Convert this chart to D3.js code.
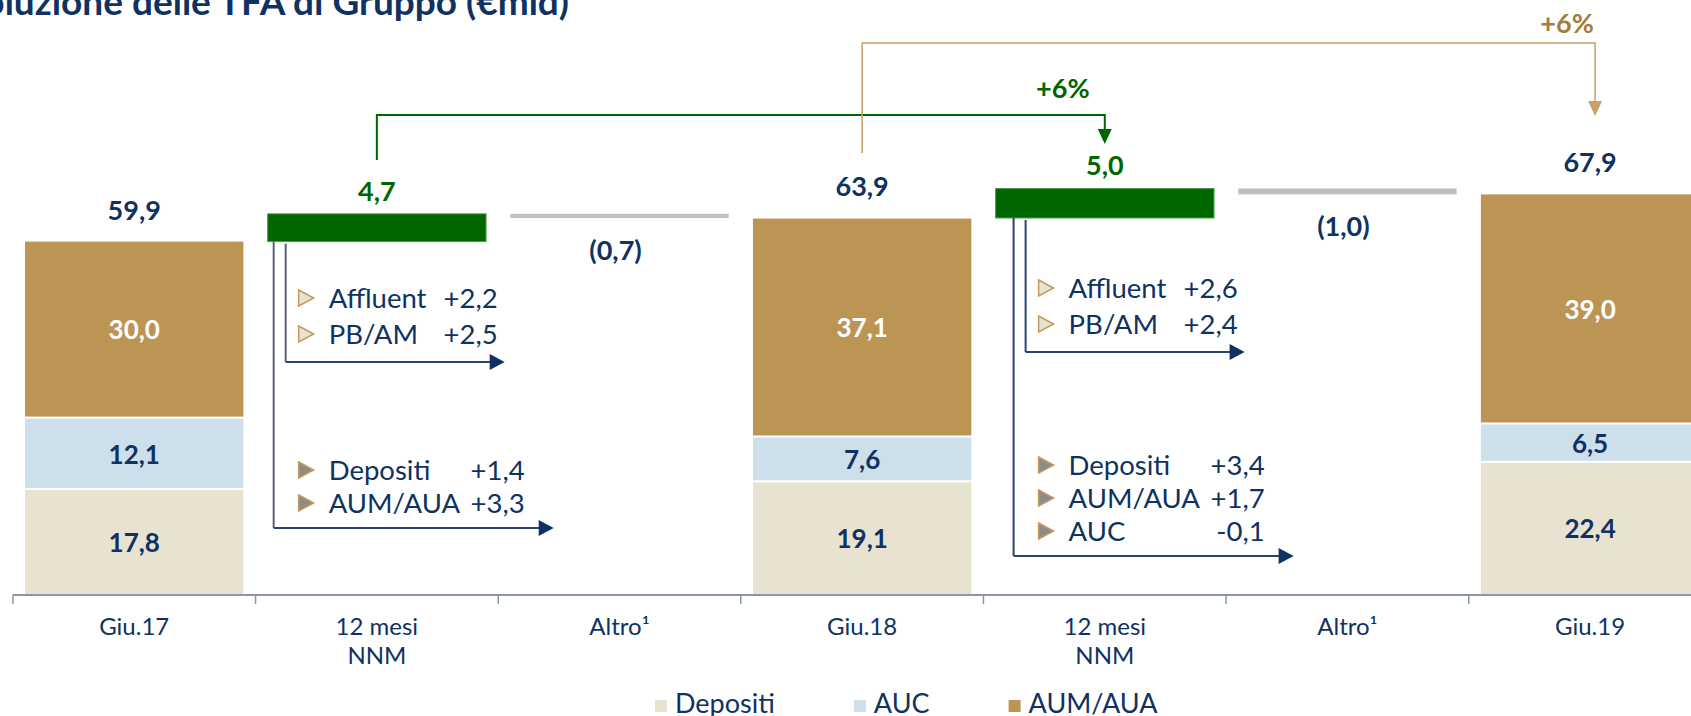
<!DOCTYPE html>
<html>
<head>
<meta charset="utf-8">
<script src="https://cdn.jsdelivr.net/npm/d3@7"></script>
<style>
  html, body { margin: 0; padding: 0; background: #fff; overflow: hidden; }
  svg { display: block; font-family: Lato, "Open Sans", sans-serif; }
</style>
</head>
<body>
<svg id="chart" width="1691" height="716"></svg>
<script>
// categories on the x axis ("|" = line break)
var categories = ["Giu.17", "12 mesi|NNM", "Altro¹", "Giu.18", "12 mesi|NNM", "Altro¹", "Giu.19"];

// stock bars (€mld)
var stockIdx = [0, 3, 6];
var seriesNames = ["Depositi", "AUC", "AUM/AUA"];
var depositi = [17.8, 19.1, 22.4];
var auc = [12.1, 7.6, 6.5];
var aumAua = [30.0, 37.1, 39.0];
var totals = [59.9, 63.9, 67.9];

// waterfall steps between the stocks
var flowIdx = [1, 2, 4, 5];
var flows = [4.7, -0.7, 5.0, -1.0];

// NNM breakdowns
var clients1 = [["Affluent", "+2,2"], ["PB/AM", "+2,5"]];
var products1 = [["Depositi", "+1,4"], ["AUM/AUA", "+3,3"]];
var clients2 = [["Affluent", "+2,6"], ["PB/AM", "+2,4"]];
var products2 = [["Depositi", "+3,4"], ["AUM/AUA", "+1,7"], ["AUC", "-0,1"]];

// growth brackets
var growthLabels = ["+6%", "+6%"];

var navy = "#0f3262";
var green = "#006600";
var goldLine = "#c6a168";
var goldText = "#a27d3e";
var colors = { "Depositi": "#e8e2d0", "AUC": "#cddfea", "AUM/AUA": "#bc9555" };

var svg = d3.select("#chart");

var x = d3.scaleBand()
  .domain(d3.range(categories.length))
  .range([12.9, 1711.4])
  .paddingInner(0.1)
  .paddingOuter(0.05);

var y = d3.scaleLinear().domain([0, 100]).range([595, 5]);

var bw = x.bandwidth();
function cx(i) { return x(i) + bw / 2; }
function fmt(v) { return Math.abs(v).toFixed(1).replace(".", ","); }

// title (cut at the left edge as in the slide)
svg.append("text")
  .attr("x", 569)
  .attr("y", 15)
  .attr("text-anchor", "end")
  .attr("font-size", 37)
  .attr("font-weight", "bold")
  .attr("fill", navy)
  .text("Evoluzione delle TFA di Gruppo (€mld)");

// stacked stock bars
var table = stockIdx.map(function(idx, k) {
  return { idx: idx, "Depositi": depositi[k], "AUC": auc[k], "AUM/AUA": aumAua[k] };
});
var stacked = d3.stack().keys(seriesNames)(table);

var layer = svg.selectAll(".layer")
  .data(stacked)
  .enter()
  .append("g")
  .attr("class", "layer")
  .attr("fill", function(d) { return colors[d.key]; });

layer.selectAll("rect")
  .data(function(d) { return d; })
  .enter()
  .append("rect")
  .attr("x", function(d) { return x(d.data.idx); })
  .attr("y", function(d) { return y(d[1]); })
  .attr("width", bw)
  .attr("height", function(d) { return y(d[0]) - y(d[1]) - (d[0] > 0 ? 2 : 0); });

layer.selectAll("text")
  .data(function(d) { return d.map(function(p) { p.key = d.key; return p; }); })
  .enter()
  .append("text")
  .attr("x", function(d) { return cx(d.data.idx); })
  .attr("y", function(d) { return (y(d[0]) + y(d[1])) / 2; })
  .attr("dy", "0.36em")
  .attr("text-anchor", "middle")
  .attr("font-size", 26)
  .attr("font-weight", "bold")
  .attr("fill", function(d) { return d.key === "AUM/AUA" ? "#ffffff" : navy; })
  .text(function(d) { return fmt(d[1] - d[0]); });

svg.selectAll(".total")
  .data(totals)
  .enter()
  .append("text")
  .attr("class", "total")
  .attr("x", function(d, k) { return cx(stockIdx[k]); })
  .attr("y", function(d) { return y(d) - 22; })
  .attr("text-anchor", "middle")
  .attr("font-size", 27)
  .attr("font-weight", "bold")
  .attr("fill", navy)
  .text(function(d) { return fmt(d); });

// waterfall steps
var running = totals[0];
var steps = flows.map(function(v, k) {
  var s = { idx: flowIdx[k], v: v, lo: Math.min(running, running + v), hi: Math.max(running, running + v) };
  running += v;
  return s;
});

svg.selectAll(".step")
  .data(steps)
  .enter()
  .append("rect")
  .attr("class", "step")
  .attr("x", function(d) { return x(d.idx); })
  .attr("y", function(d) { return y(d.hi); })
  .attr("width", bw)
  .attr("height", function(d) { return y(d.lo) - y(d.hi); })
  .attr("fill", function(d) { return d.v > 0 ? green : "#bfbfbf"; })
  .attr("stroke", function(d) { return d.v > 0 ? "#4b9a4b" : "none"; })
  .attr("stroke-width", 1);

svg.selectAll(".stepLabel")
  .data(steps)
  .enter()
  .append("text")
  .attr("class", "stepLabel")
  .attr("x", function(d) { return cx(d.idx) - (d.v > 0 ? 0 : 4); })
  .attr("y", function(d) { return d.v > 0 ? y(d.hi) - 13 : y(d.lo) + 42; })
  .attr("text-anchor", "middle")
  .attr("font-size", 27)
  .attr("font-weight", "bold")
  .attr("fill", function(d) { return d.v > 0 ? green : navy; })
  .text(function(d) { return d.v > 0 ? fmt(d.v) : "(" + fmt(d.v) + ")"; });

// x axis
var axisY = y(0);
svg.append("line")
  .attr("x1", x.range()[0]).attr("x2", 1691)
  .attr("y1", axisY).attr("y2", axisY)
  .attr("stroke", "#8d96aa")
  .attr("stroke-width", 2);

svg.selectAll(".sep")
  .data(d3.range(categories.length + 1))
  .enter()
  .append("line")
  .attr("class", "sep")
  .attr("x1", function(i) { return x.range()[0] + i * x.step(); })
  .attr("x2", function(i) { return x.range()[0] + i * x.step(); })
  .attr("y1", axisY).attr("y2", axisY + 9)
  .attr("stroke", "#8d96aa")
  .attr("stroke-width", 1.5);

var axis = svg.append("g")
  .attr("transform", "translate(0," + axisY + ")")
  .call(d3.axisBottom(x).tickSize(0).tickPadding(23));
axis.select(".domain").remove();
axis.selectAll(".tick text")
  .attr("font-size", 24)
  .attr("font-family", "Lato, sans-serif")
  .attr("fill", navy)
  .each(function(i) {
    var el = d3.select(this);
    var lines = categories[i].split("|");
    el.text(null);
    lines.forEach(function(l, k) {
      el.append("tspan").attr("x", 0).attr("dy", k ? "1.2em" : "0.71em").text(l);
    });
  });

// NNM breakdown arrows
function arrowRight(g, tipX, yy, color) {
  g.append("path")
    .attr("d", "M" + tipX + "," + yy + "L" + (tipX - 15) + "," + (yy - 8) + "L" + (tipX - 15) + "," + (yy + 8) + "Z")
    .attr("fill", color);
}
function arrowDown(g, xx, tipY, color) {
  g.append("path")
    .attr("d", "M" + xx + "," + tipY + "L" + (xx - 7) + "," + (tipY - 15) + "L" + (xx + 7) + "," + (tipY - 15) + "Z")
    .attr("fill", color);
}

function drawBreakdown(idx, shift, topY, innerY, outerY, clients, products, vertCol) {
  var g = svg.append("g");
  var x0 = x(idx) + shift;
  var lineCol = "#2a4470";

  g.append("path")
    .attr("d", "M" + (x0 + 6) + "," + topY + "V" + outerY)
    .attr("fill", "none").attr("stroke", vertCol).attr("stroke-width", 2);
  g.append("path")
    .attr("d", "M" + (x0 + 6) + "," + outerY + "H" + (x0 + 272))
    .attr("fill", "none").attr("stroke", lineCol).attr("stroke-width", 2);
  arrowRight(g, x0 + 286, outerY, navy);

  g.append("path")
    .attr("d", "M" + (x0 + 18) + "," + (topY + 2) + "V" + innerY)
    .attr("fill", "none").attr("stroke", vertCol).attr("stroke-width", 2);
  g.append("path")
    .attr("d", "M" + (x0 + 18) + "," + innerY + "H" + (x0 + 223))
    .attr("fill", "none").attr("stroke", lineCol).attr("stroke-width", 2);
  arrowRight(g, x0 + 237, innerY, navy);

  function rows(data, baseY, step, hollow, valueX) {
    data.forEach(function(r, k) {
      var by = baseY + k * step;
      g.append("path")
        .attr("d", "M" + (x0 + 31) + "," + (by - 18) + "L" + (x0 + 46) + "," + (by - 10) + "L" + (x0 + 31) + "," + (by - 2) + "Z")
        .attr("fill", hollow ? "#e8e2d0" : "#8c8c8c")
        .attr("stroke", "#c39a5c")
        .attr("stroke-width", 1.5);
      g.append("text")
        .attr("x", x0 + 61).attr("y", by)
        .attr("font-size", 27.5).attr("fill", navy)
        .text(r[0]);
      g.append("text")
        .attr("x", x0 + valueX).attr("y", by)
        .attr("text-anchor", "end")
        .attr("font-size", 27.5).attr("fill", navy)
        .text(r[1]);
    });
  }
  rows(clients, innerY - 54, 36, true, 230);
  rows(products, outerY - 15 - (products.length - 1) * 33, 33, false, 257);
}

drawBreakdown(flowIdx[0], 0, y(totals[0]), 362, 528, clients1, products1, "#5b6270");
drawBreakdown(flowIdx[2], 12, y(totals[1]), 352, 556, clients2, products2, "#2a4470");

// growth brackets
var gGreen = svg.append("g");
gGreen.append("path")
  .attr("d", "M" + cx(flowIdx[0]) + ",160V115H" + cx(flowIdx[2]) + "V130")
  .attr("fill", "none").attr("stroke", green).attr("stroke-width", 2);
arrowDown(gGreen, cx(flowIdx[2]), 144, green);
gGreen.append("text")
  .attr("x", cx(flowIdx[2]) - 42).attr("y", 98)
  .attr("text-anchor", "middle")
  .attr("font-size", 27).attr("font-weight", "bold").attr("fill", green)
  .text(growthLabels[0]);

var gGold = svg.append("g");
gGold.append("path")
  .attr("d", "M" + cx(stockIdx[1]) + ",153V43H" + (cx(stockIdx[2]) + 5) + "V102")
  .attr("fill", "none").attr("stroke", goldLine).attr("stroke-width", 1.5);
arrowDown(gGold, cx(stockIdx[2]) + 5, 116, goldLine);
gGold.append("text")
  .attr("x", cx(stockIdx[2]) - 23).attr("y", 33)
  .attr("text-anchor", "middle")
  .attr("font-size", 27).attr("font-weight", "bold").attr("fill", goldText)
  .text(growthLabels[1]);

// legend
var lx = 655;
seriesNames.forEach(function(name) {
  svg.append("rect")
    .attr("x", lx).attr("y", 700)
    .attr("width", 12).attr("height", 12)
    .attr("fill", colors[name]);
  var t = svg.append("text")
    .attr("x", lx + 20).attr("y", 713)
    .attr("font-size", 27).attr("fill", navy)
    .text(name);
  lx += 20 + t.node().getComputedTextLength() + 79;
});
</script>
</body>
</html>
